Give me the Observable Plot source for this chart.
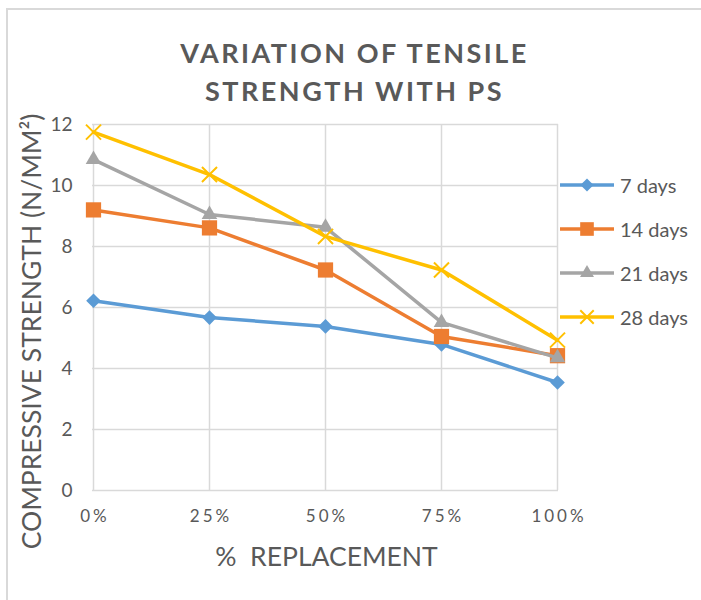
<!DOCTYPE html>
<html>
<head>
<meta charset="utf-8">
<script src="https://cdn.jsdelivr.net/npm/d3@7"></script>
<script src="https://cdn.jsdelivr.net/npm/@observablehq/plot@0.6"></script>
<style>
  html, body { margin: 0; padding: 0; background: #fff; }
  #wrap { position: relative; width: 701px; height: 600px; overflow: hidden; background: #fff; }
  #border { position: absolute; left: 6px; top: 8px; width: 800px; height: 700px; border: 2px solid #D9D9D9; box-sizing: border-box; }
  #chart { position: absolute; left: 0; top: 0; }
  #legend { position: absolute; left: 560px; top: 0; font-family: Lato, "Open Sans", sans-serif; font-size: 20px; color: #595959; }
  .item { position: absolute; left: 0; display: flex; align-items: center; white-space: nowrap; }
  .item svg { display: block; }
  .item span { margin-left: 6px; }
</style>
</head>
<body>
<div id="wrap">
  <div id="border"></div>
  <div id="chart"></div>
  <div id="legend"></div>
</div>
<script>
// ---- data ----
const categories = ["0%", "25%", "50%", "75%", "100%"];
const seriesNames = ["7 days", "14 days", "21 days", "28 days"];
const days7  = [6.22, 5.67, 5.38, 4.79, 3.54];
const days14 = [9.20, 8.61, 7.23, 5.05, 4.42];
const days21 = [10.85, 9.05, 8.63, 5.51, 4.35];
const days28 = [11.75, 10.36, 8.33, 7.23, 4.93];
const yTicks = [0, 2, 4, 6, 8, 10, 12];
const titleText = "VARIATION OF TENSILE\nSTRENGTH WITH PS";
const yTitle = "COMPRESSIVE STRENGTH (N/MM²)";
const xTitle = "%\u00A0 REPLACEMENT";

// ---- styles ----
const colors = ["#5B9BD5", "#ED7D31", "#A5A5A5", "#FFC000"];
const symbols = ["diamond2", "square", "triangle", "times"];
const radii = [6.6, 8.6, 5.8, 6.9];

const valuesBySeries = [days7, days14, days21, days28];
const rows = [];
seriesNames.forEach((s, si) => categories.forEach((c, ci) => rows.push({series: s, cat: c, value: valuesBySeries[si][ci]})));

const marks = [
  Plot.gridX({stroke: "#D9D9D9", strokeOpacity: 1, strokeWidth: 1.5}),
  Plot.gridY(yTicks, {stroke: "#D9D9D9", strokeOpacity: 1, strokeWidth: 1.5}),
  Plot.axisY(yTicks, {tickSize: 0, tickPadding: 20, fontSize: 19, label: null}),
  Plot.axisX({tickSize: 0, tickPadding: 19, fontSize: 17, label: null, ariaDescription: "xticks"})
];
seriesNames.forEach((s, si) => {
  const d = rows.filter(r => r.series === s);
  marks.push(Plot.line(d, {x: "cat", y: "value", stroke: colors[si], strokeWidth: 3.5, strokeLinejoin: "round"}));
  if (symbols[si] === "times") {
    marks.push(Plot.dot(d, {x: "cat", y: "value", symbol: symbols[si], r: radii[si], stroke: colors[si], strokeWidth: 2, fill: "none"}));
  } else {
    marks.push(Plot.dot(d, {x: "cat", y: "value", symbol: symbols[si], r: radii[si], fill: colors[si], stroke: "none"}));
  }
});
marks.push(
  Plot.text([titleText], {frameAnchor: "top", textAnchor: "middle", lineAnchor: "middle", dx: 29, dy: -55, fontSize: 27, fontWeight: "bold", lineHeight: 1.42, fill: "#595959", ariaDescription: "title"}),
  Plot.text([yTitle], {frameAnchor: "left", textAnchor: "middle", lineAnchor: "middle", rotate: -90, dx: -60, dy: 24, fontSize: 26.5, fill: "#595959"}),
  Plot.text([xTitle], {frameAnchor: "bottom", textAnchor: "middle", lineAnchor: "middle", dx: 1, dy: 67, fontSize: 26.5, fill: "#595959"})
);

const chart = Plot.plot({
  width: 701, height: 600,
  marginLeft: 92, marginRight: 143, marginTop: 124, marginBottom: 110,
  style: {fontFamily: "Lato, 'Open Sans', sans-serif", color: "#595959", background: "transparent", overflow: "visible"},
  x: {type: "point", domain: categories, padding: 0},
  y: {domain: [0, 12]},
  marks
});
document.getElementById("chart").appendChild(chart);

// letter spacing for title and x tick labels (as in the original)
d3.select(chart).selectAll("[aria-description=title] text").style("letter-spacing", "2.5px");
d3.select(chart).selectAll("[aria-description=xticks] text").style("letter-spacing", "3px").attr("dx", "1.5");

// ---- legend ----
const legendTops = [185, 229, 273, 317];
const legend = d3.select("#legend");
seriesNames.forEach((s, si) => {
  const item = legend.append("div").attr("class", "item").style("top", (legendTops[si] - 12) + "px").style("height", "24px");
  const svg = item.append("svg").attr("width", 54).attr("height", 24);
  svg.append("line").attr("x1", 0).attr("x2", 54).attr("y1", 12).attr("y2", 12).attr("stroke", colors[si]).attr("stroke-width", 3.5);
  const symMap = {diamond2: d3.symbolDiamond2, square: d3.symbolSquare, triangle: d3.symbolTriangle, times: d3.symbolTimes};
  const size = Math.PI * radii[si] * radii[si] * 0.8;
  const p = svg.append("path").attr("transform", "translate(27,12)").attr("d", d3.symbol(symMap[symbols[si]], size)());
  if (symbols[si] === "times") p.attr("fill", "none").attr("stroke", colors[si]).attr("stroke-width", 2);
  else p.attr("fill", colors[si]);
  item.append("span").text(s);
});
</script>
</body>
</html>
